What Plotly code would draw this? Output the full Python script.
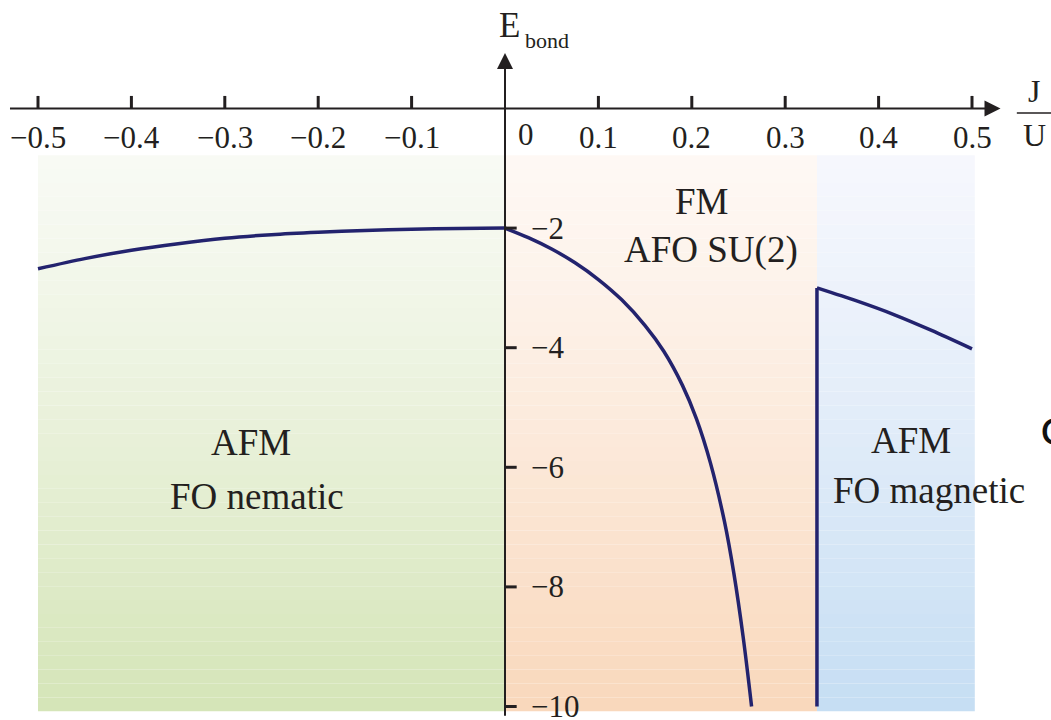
import plotly.graph_objects as go

# ---- data -------------------------------------------------------------
# bond energy, AFM / FO nematic branch (J/U < 0)
j_left = [-0.5, -0.45, -0.4, -0.35, -0.3, -0.25, -0.2, -0.15, -0.1, -0.05, 0.0]
e_left = [-2.68, -2.51, -2.37, -2.26, -2.17, -2.11, -2.07, -2.04, -2.02, -2.005, -2.0]

# FM / AFO SU(2) branch (0 < J/U < 1/3)
j_mid = [0.0, 0.025, 0.05, 0.075, 0.10, 0.125, 0.15, 0.17, 0.19, 0.205,
         0.22, 0.235, 0.245, 0.255, 0.264]
e_mid = [-2.0, -2.16, -2.35, -2.58, -2.86, -3.2, -3.63, -4.06, -4.63, -5.19,
         -5.93, -6.91, -7.77, -8.84, -10.0]

# AFM / FO magnetic branch (J/U > 1/3), with the jump at the boundary
j_jump = [0.334, 0.334]
e_jump = [-10.0, -3.0]
j_right = [0.334, 0.375, 0.417, 0.458, 0.5]
e_right = [-3.0, -3.21, -3.45, -3.72, -4.02]

# phase regions: J extent, top colour, bottom colour
region_bounds = [(-0.5, 0.0), (0.0, 0.334), (0.334, 0.503)]
region_top_rgb = [(248, 250, 244), (254, 248, 244), (246, 247, 253)]
region_bottom_rgb = [(213, 229, 184), (249, 216, 188), (198, 222, 243)]
region_e_top, region_e_bottom = -0.78, -10.08

x_tick_vals = [-0.5, -0.4, -0.3, -0.2, -0.1, 0.1, 0.2, 0.3, 0.4, 0.5]
x_tick_text = ["−0.5", "−0.4", "−0.3", "−0.2", "−0.1", "0.1", "0.2", "0.3", "0.4", "0.5"]
y_tick_vals = [-2, -4, -6, -8, -10]
y_tick_text = ["−2", "−4", "−6", "−8", "−10"]

phase_labels = [
    (-0.272, -5.58, "AFM"), (-0.266, -6.48, "FO nematic"),
    (0.210, -1.56, "FM"), (0.221, -2.37, "AFO SU(2)"),
    (0.435, -5.56, "AFM"), (0.454, -6.38, "FO magnetic"),
]

# ---- styling ----------------------------------------------------------
SERIF = "Liberation Serif, Times New Roman, serif"
INK = "#231f20"
CURVE = "#23236e"
X_RANGE = [-505 / 934, 546 / 934]
Y_RANGE = [-(720 - 108.5) / 59.8, 108.5 / 59.8]

fig = go.Figure()

# gradient backgrounds built from thin horizontal bands
n_bands = 40
shapes = []
for (x0, x1), c_top, c_bot in zip(region_bounds, region_top_rgb, region_bottom_rgb):
    for k in range(n_bands):
        t = (k / (n_bands - 1)) ** 1.15
        y_hi = region_e_top + (region_e_bottom - region_e_top) * k / n_bands
        y_lo = region_e_top + (region_e_bottom - region_e_top) * (k + 1) / n_bands
        rgb = tuple(round(a + (b - a) * t) for a, b in zip(c_top, c_bot))
        shapes.append(dict(type="rect", xref="x", yref="y", x0=x0, x1=x1,
                           y0=y_lo, y1=y_hi, layer="below", line=dict(width=0),
                           fillcolor="rgb(%d,%d,%d)" % rgb))

# tick marks
for xv in x_tick_vals:
    shapes.append(dict(type="line", xref="x", yref="y", x0=xv, x1=xv, y0=0, y1=0.21,
                       line=dict(color=INK, width=3)))
for yv in y_tick_vals:
    shapes.append(dict(type="line", xref="x", yref="y", x0=0, x1=0.0125, y0=yv, y1=yv,
                       line=dict(color=INK, width=3)))

# curves
line_style = dict(color=CURVE, width=3.5)
fig.add_trace(go.Scatter(x=j_left, y=e_left, mode="lines",
                         line=dict(shape="spline", smoothing=0.8, **line_style), hoverinfo="skip"))
fig.add_trace(go.Scatter(x=j_mid, y=e_mid, mode="lines",
                         line=dict(shape="spline", smoothing=1.0, **line_style), hoverinfo="skip"))
fig.add_trace(go.Scatter(x=j_jump, y=e_jump, mode="lines",
                         line=dict(shape="linear", **line_style), hoverinfo="skip"))
fig.add_trace(go.Scatter(x=j_right, y=e_right, mode="lines",
                         line=dict(shape="spline", smoothing=0.6, **line_style), hoverinfo="skip"))

annotations = []
# axes with arrow heads
annotations.append(dict(x=0.5305, y=0, ax=-0.5316, ay=0, xref="x", yref="y",
                        axref="x", ayref="y", text="", showarrow=True, arrowhead=2,
                        arrowsize=1.6, arrowwidth=2, arrowcolor=INK, standoff=0))
annotations.append(dict(x=0, y=0.93, ax=0, ay=-10.18, xref="x", yref="y",
                        axref="x", ayref="y", text="", showarrow=True, arrowhead=2,
                        arrowsize=1.6, arrowwidth=2, arrowcolor=INK, standoff=0))

# tick labels
for xv, txt in zip(x_tick_vals, x_tick_text):
    annotations.append(dict(x=xv, y=-0.49, xref="x", yref="y", text=txt,
                            showarrow=False, font=dict(family=SERIF, size=31, color=INK)))
annotations.append(dict(x=0.022, y=-0.44, xref="x", yref="y", text="0",
                        showarrow=False, font=dict(family=SERIF, size=31, color=INK)))
for yv, txt in zip(y_tick_vals, y_tick_text):
    annotations.append(dict(x=0.026, y=yv, xref="x", yref="y", text=txt, xanchor="left",
                            showarrow=False, font=dict(family=SERIF, size=31, color=INK)))

# axis titles
annotations.append(dict(x=0.005, y=1.39, xref="x", yref="y", text="E",
                        showarrow=False, font=dict(family=SERIF, size=35, color=INK)))
annotations.append(dict(x=0.019, y=1.14, xref="x", yref="y", text="bond", xanchor="left",
                        showarrow=False, font=dict(family=SERIF, size=22, color=INK)))
annotations.append(dict(x=0.5667, y=0.3, xref="x", yref="y", text="J",
                        showarrow=False, font=dict(family=SERIF, size=32, color=INK)))
annotations.append(dict(x=0.5667, y=-0.45, xref="x", yref="y", text="U",
                        showarrow=False, font=dict(family=SERIF, size=32, color=INK)))
shapes.append(dict(type="line", xref="x", yref="y", x0=0.548, x1=0.585, y0=-0.075, y1=-0.075,
                   line=dict(color=INK, width=1.5)))

# phase labels
for xv, yv, txt in phase_labels:
    annotations.append(dict(x=xv, y=yv, xref="x", yref="y", text=txt, showarrow=False,
                            font=dict(family=SERIF, size=37, color=INK)))

# glyph fragment at the right edge
annotations.append(dict(x=0.5705, y=-5.35, xref="x", yref="y", text="c", xanchor="left",
                        showarrow=False, font=dict(family="DejaVu Sans", size=46, color="#111111")))

fig.update_layout(
    width=1051, height=720,
    margin=dict(l=0, r=0, t=0, b=0),
    paper_bgcolor="white", plot_bgcolor="white",
    showlegend=False,
    xaxis=dict(range=X_RANGE, visible=False, fixedrange=True),
    yaxis=dict(range=Y_RANGE, visible=False, fixedrange=True),
    shapes=shapes,
    annotations=annotations,
)

fig.write_html("out.html")
